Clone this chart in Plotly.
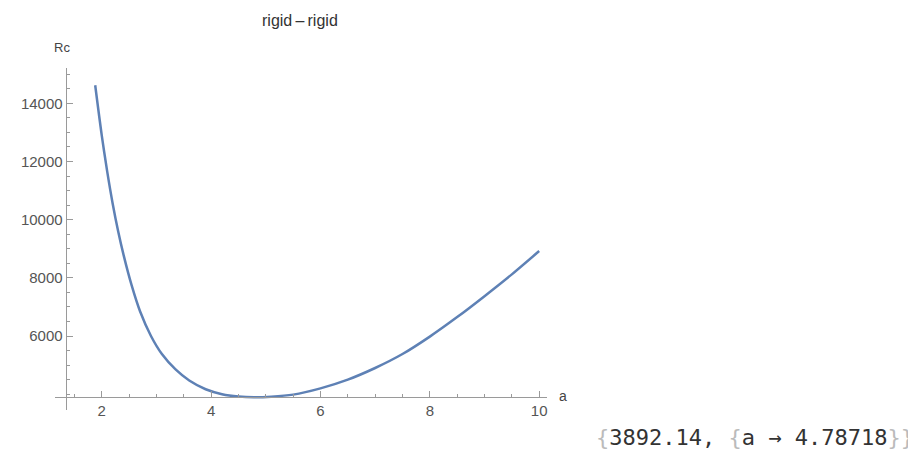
import plotly.graph_objects as go

# ---- data ----
a_vals = [1.88, 2.0, 2.1, 2.2, 2.3, 2.4, 2.55, 2.7, 2.9, 3.1, 3.35, 3.6, 3.9, 4.2,
          4.5, 4.787, 5.1, 5.5, 6.0, 6.5, 7.0, 7.5, 8.0, 8.5, 9.0, 9.5, 10.0]
rc_vals = [14620, 12900, 11650, 10550, 9600, 8780, 7720, 6850, 6000, 5380, 4850, 4470,
           4170, 4000, 3918, 3892, 3912, 3985, 4200, 4500, 4900, 5380, 5980, 6650,
           7370, 8120, 8920]

x_major = [2, 4, 6, 8, 10]
x_minor = [1.5, 2.5, 3, 3.5, 4.5, 5, 5.5, 6.5, 7, 7.5, 8.5, 9, 9.5]
y_major = [6000, 8000, 10000, 12000, 14000]
y_minor = [4000, 4500, 5000, 5500, 6500, 7000, 7500, 8500, 9000, 9500,
           10500, 11000, 11500, 12500, 13000, 13500, 14500, 15000]

title_text = "rigid\u2009\u2013\u2009rigid"
y_label = "Rc"
x_label = "a"
result_min = "3892.14"
result_arg = "4.78718"

# ---- layout geometry (screen pixels; page body has an 8px margin) ----
OFF = 8
W, H = 916 - OFF, 456 - OFF
plot_left, plot_right, plot_top, plot_bottom = 55, 546.7, 68, 410
L = plot_left - OFF
R = W - (plot_right - OFF)
T = plot_top - OFF
B = H - (plot_bottom - OFF)
x_range = [1.145, 10.143]
y_range = [3456, 15214]
x_cross = 1.34      # where the y axis sits
y_cross = 3892.14   # where the x axis sits

pw = W - L - R
ph = H - T - B


def px_to_paper_x(px):
    return (px - OFF - L) / pw


def py_to_paper_y(py):
    return (H - B - (py - OFF)) / ph


axis_col = "#9a9a9a"
tick_font = dict(family="Liberation Sans, Arial, sans-serif", size=15, color="#555555")

fig = go.Figure()
fig.add_trace(go.Scatter(
    x=a_vals, y=rc_vals, mode="lines",
    line=dict(color="#5E81B5", width=2.5, shape="spline", smoothing=0.8),
    hoverinfo="skip", showlegend=False,
))

fig.update_layout(
    width=W, height=H,
    margin=dict(l=L, r=R, t=T, b=B, pad=0, autoexpand=False),
    paper_bgcolor="white", plot_bgcolor="white",
    xaxis=dict(
        range=x_range, showgrid=False, zeroline=False, automargin=False,
        anchor="free",
        position=(y_cross - y_range[0]) / (y_range[1] - y_range[0]),
        showline=True, linecolor=axis_col, linewidth=1,
        tickmode="array", tickvals=x_major, ticktext=[str(v) for v in x_major],
        ticks="inside", ticklen=6, tickcolor=axis_col, tickwidth=1,
        tickfont=tick_font,
        minor=dict(tickmode="array", tickvals=x_minor, ticks="inside",
                   ticklen=3, tickcolor=axis_col, tickwidth=1, showgrid=False),
    ),
    yaxis=dict(
        range=y_range, showgrid=False, zeroline=False, automargin=False,
        anchor="free",
        position=(x_cross - x_range[0]) / (x_range[1] - x_range[0]),
        showline=True, linecolor=axis_col, linewidth=1,
        tickmode="array", tickvals=y_major, ticktext=[str(v) for v in y_major],
        ticks="inside", ticklen=6, tickcolor=axis_col, tickwidth=1,
        tickfont=tick_font,
        minor=dict(tickmode="array", tickvals=y_minor, ticks="inside",
                   ticklen=3, tickcolor=axis_col, tickwidth=1, showgrid=False),
    ),
)

annotations = [
    dict(text=title_text, xref="paper", yref="paper",
         x=px_to_paper_x(300), y=py_to_paper_y(20), xanchor="center", yanchor="middle",
         showarrow=False, font=dict(family="Liberation Sans, Arial, sans-serif",
                                    size=16, color="#333333")),
    dict(text=y_label, xref="paper", yref="paper",
         x=px_to_paper_x(62), y=py_to_paper_y(47), xanchor="center", yanchor="middle",
         showarrow=False, font=dict(family="Liberation Sans, Arial, sans-serif",
                                    size=13, color="#444444")),
    dict(text=x_label, xref="paper", yref="paper",
         x=px_to_paper_x(563), y=py_to_paper_y(396), xanchor="center", yanchor="middle",
         showarrow=False, font=dict(family="Liberation Sans, Arial, sans-serif",
                                    size=14, color="#444444")),
    dict(text=('<span style="color:#bbbbbb">{</span>' + result_min + ', '
               '<span style="color:#bbbbbb">{</span>a \u2192 ' + result_arg +
               '<span style="color:#bbbbbb">}}</span>'),
         xref="paper", yref="paper",
         x=px_to_paper_x(594), y=py_to_paper_y(437), xanchor="left", yanchor="middle",
         showarrow=False, font=dict(family="DejaVu Sans Mono, monospace",
                                    size=22, color="#333333")),
]
fig.update_layout(annotations=annotations)

fig.write_html("out.html")
